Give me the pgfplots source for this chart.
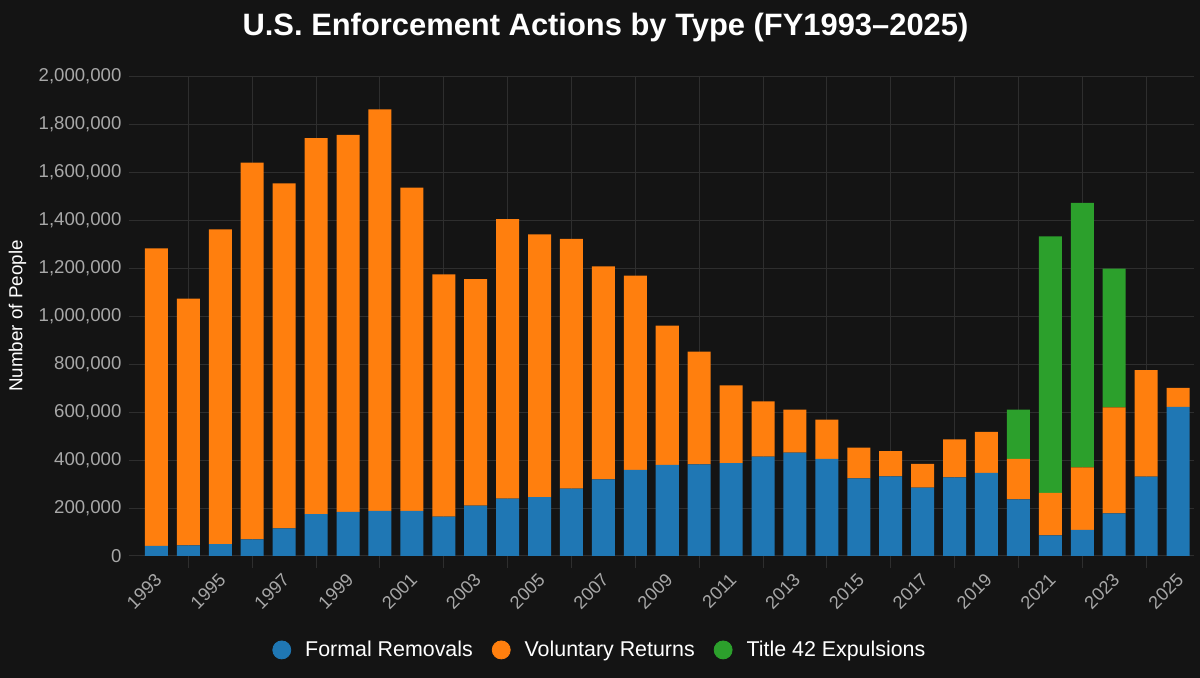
\documentclass[border=0pt]{standalone}
\usepackage{fontspec}
\setmainfont{Liberation Sans}
\usepackage{pgfplots}
\usepackage{pgfplotstable}
\pgfplotsset{compat=1.18}
\definecolor{bg}{HTML}{141414}
\definecolor{gridc}{HTML}{2E2E2E}
\definecolor{tickc}{HTML}{A8A8A8}
\definecolor{c1}{HTML}{1F77B4}
\definecolor{c2}{HTML}{FF7F0E}
\definecolor{c3}{HTML}{2CA02C}

\pgfplotstableread{
year fr vr t42
1993 42000 1242000 0
1994 44500 1029500 0
1995 50000 1313000 0
1996 69600 1571400 0
1997 115500 1439500 0
1998 175000 1569000 0
1999 183600 1573400 0
2000 188000 1676000 0
2001 188000 1349000 0
2002 164000 1011000 0
2003 210000 945000 0
2004 239000 1167000 0
2005 246000 1096000 0
2006 281000 1042000 0
2007 320000 889000 0
2008 359000 811000 0
2009 380000 581000 0
2010 382500 470500 0
2011 388000 324000 0
2012 414500 230500 0
2013 431000 180000 0
2014 405000 164000 0
2015 324000 128000 0
2016 332500 105500 0
2017 285000 99000 0
2018 328000 159000 0
2019 346500 171000 0
2020 236500 168300 205800
2021 86200 176700 1071100
2022 108500 261500 1103000
2023 178000 442400 578600
2024 331000 445000 0
2025 622000 79000 0
}\data

\begin{document}
\begin{tikzpicture}
\useasboundingbox (0,0) rectangle (600pt,339pt);
\fill[bg] (0,0) rectangle (600pt,339pt);
\node[font=\bfseries\fontsize{15.45}{18}\selectfont, text=white] at (302.75pt,325pt) {U.S. Enforcement Actions by Type (FY1993–2025)};
\node[rotate=90, font=\fontsize{9.4}{11}\selectfont, text=white] at (8.75pt,181pt) {Number of People};
\begin{axis}[
  at={(70.25pt,61pt)}, anchor=south west,
  scale only axis, width=526.75pt, height=239.65pt,
  xmin=1992.5, xmax=2025.5, ymin=0, ymax=2000000,
  enlargelimits=false,
  ybar stacked, bar width=11.5pt,
  axis line style={draw=none},
  xtick pos=bottom, ytick pos=left,
  tick align=outside, major tick length=6pt, minor tick length=6pt,
  tick style={draw=gridc, line width=0.5pt},
  grid style={draw=gridc, line width=0.5pt},
  minor grid style={draw=gridc, line width=0.5pt},
  ymajorgrids, xminorgrids,
  ytick={0,200000,...,2000000},
  scaled y ticks=false,
  /pgf/number format/assume math mode=true,
  yticklabel style={text=tickc, font=\fontsize{9.3}{11}\selectfont, /pgf/number format/fixed, /pgf/number format/1000 sep={,}},
  xtick={1993,1995,...,2025},
  xticklabels={1993,1995,1997,1999,2001,2003,2005,2007,2009,2011,2013,2015,2017,2019,2021,2023,2025},
  minor xtick={1994,1996,...,2024},
  every major x tick/.append style={draw=none},
  xticklabel style={text=tickc, font=\fontsize{9.1}{11}\selectfont, xshift=3.5pt, yshift=-2pt, rotate=45, anchor=east},
  legend columns=3,
  legend style={at={(0.437,-0.196)}, anchor=center, draw=none, fill=none, text=white, font=\fontsize{10.7}{12}\selectfont, /tikz/every even column/.append style={column sep=7.5pt}},
]
\addplot[fill=c1, draw=none, forget plot] table[x=year,y=fr]{\data};
\addplot[fill=c2, draw=none, forget plot] table[x=year,y=vr]{\data};
\addplot[fill=c3, draw=none, forget plot] table[x=year,y=t42]{\data};
\addlegendimage{legend image code/.code={\fill[c1] (4.5pt,0pt) circle (4.5pt); \path (14pt,0pt);}}
\addlegendentry{Formal Removals}
\addlegendimage{legend image code/.code={\fill[c2] (4.5pt,0pt) circle (4.5pt); \path (14pt,0pt);}}
\addlegendentry{Voluntary Returns}
\addlegendimage{legend image code/.code={\fill[c3] (4.5pt,0pt) circle (4.5pt); \path (14pt,0pt);}}
\addlegendentry{Title 42 Expulsions}
\end{axis}
\end{tikzpicture}
\end{document}
